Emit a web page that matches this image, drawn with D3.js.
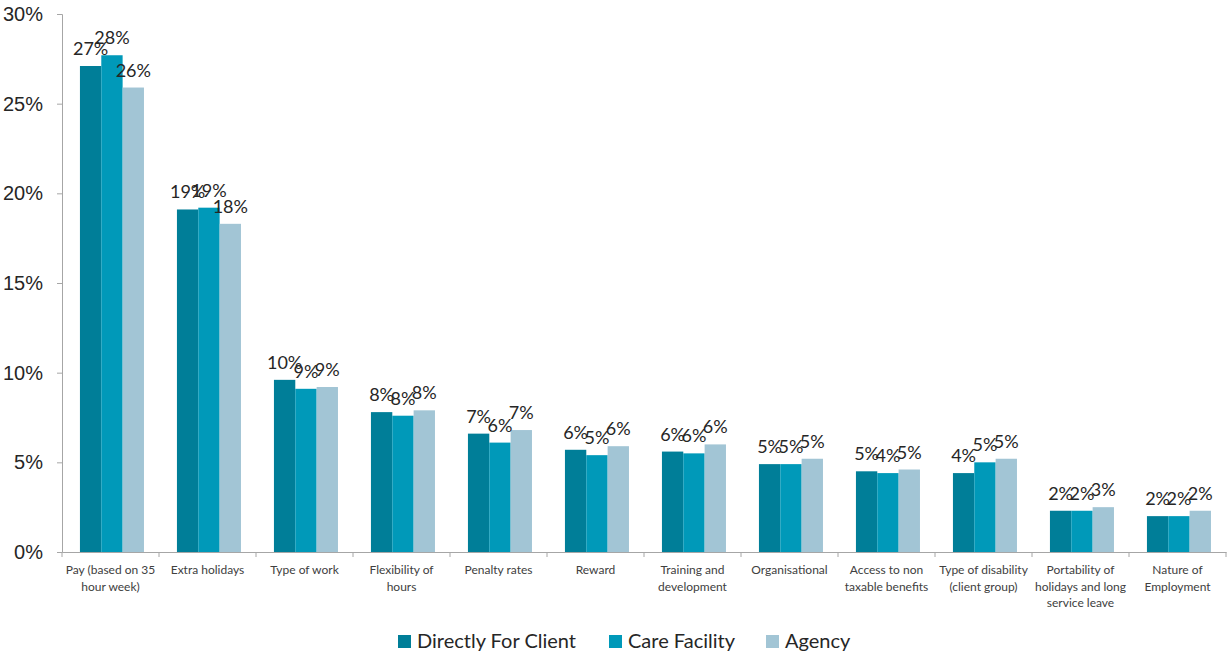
<!DOCTYPE html>
<html>
<head>
<meta charset="utf-8">
<script src="https://cdn.jsdelivr.net/npm/d3@7/dist/d3.min.js"></script>
<style>
  html, body { margin: 0; padding: 0; background: #fff; }
  svg { display: block; font-family: Lato, "Open Sans", sans-serif; }
</style>
</head>
<body>
<svg id="chart" width="1229" height="652"></svg>
<script>
// Reasons for preferring each employment setting (% of respondents)
const categories = [
  "Pay (based on 35 hour week)",
  "Extra holidays",
  "Type of work",
  "Flexibility of hours",
  "Penalty rates",
  "Reward",
  "Training and development",
  "Organisational",
  "Access to non taxable benefits",
  "Type of disability (client group)",
  "Portability of holidays and long service leave",
  "Nature of Employment"
];
// Wrapped lines for the category axis
const categoryLines = [
  ["Pay (based on 35", "hour week)"],
  ["Extra holidays"],
  ["Type of work"],
  ["Flexibility of", "hours"],
  ["Penalty rates"],
  ["Reward"],
  ["Training and", "development"],
  ["Organisational"],
  ["Access to non", "taxable benefits"],
  ["Type of disability", "(client group)"],
  ["Portability of", "holidays and long", "service leave"],
  ["Nature of", "Employment"]
];
const seriesNames = ["Directly For Client", "Care Facility", "Agency"];
const directlyForClient = [27.1, 19.1, 9.6, 7.8, 6.6, 5.7, 5.6, 4.9, 4.5, 4.4, 2.3, 2.0];
const careFacility      = [27.7, 19.2, 9.1, 7.6, 6.1, 5.4, 5.5, 4.9, 4.4, 5.0, 2.3, 2.0];
const agency            = [25.9, 18.3, 9.2, 7.9, 6.8, 5.9, 6.0, 5.2, 4.6, 5.2, 2.5, 2.3];
const yTicks = [0, 5, 10, 15, 20, 25, 30];
const colors = ["#007E98", "#0099B9", "#A2C5D5"];

const seriesValues = [directlyForClient, careFacility, agency];

const svg = d3.select("#chart");
const margin = { left: 62, right: 3, top: 14, bottom: 100 };
const W = 1229, H = 652;
const plotBottom = 552;

const x0 = d3.scaleBand().domain(categories).range([margin.left, W - margin.right]).padding(0);
const x1 = d3.scaleBand().domain(seriesNames)
  .range([x0.bandwidth() * 0.185, x0.bandwidth() * 0.845]).padding(0);
const y = d3.scaleLinear().domain([0, 30]).range([plotBottom, margin.top]);

const axisColor = "#A6A6A6";
const textColor = "#262626";

// Y axis
const yAxis = svg.append("g")
  .attr("transform", `translate(${margin.left},0)`)
  .call(d3.axisLeft(y).tickValues(yTicks).tickSize(5).tickPadding(14).tickFormat(d => d + "%"));
yAxis.select(".domain").attr("stroke", axisColor);
yAxis.selectAll(".tick line").attr("stroke", axisColor);
yAxis.selectAll(".tick text").attr("font-size", 20).attr("fill", textColor);

// Bars
const groups = svg.append("g").selectAll("g")
  .data(categories)
  .join("g")
  .attr("transform", d => `translate(${x0(d)},0)`);

groups.selectAll("rect")
  .data((c, i) => seriesNames.map((s, j) => ({ s, j, v: seriesValues[j][i] })))
  .join("rect")
  .attr("x", d => x1(d.s))
  .attr("width", x1.bandwidth())
  .attr("y", d => y(d.v))
  .attr("height", d => plotBottom - y(d.v))
  .attr("fill", d => colors[d.j]);

// Value labels
groups.selectAll("text.val")
  .data((c, i) => seriesNames.map((s, j) => ({ s, j, v: seriesValues[j][i] })))
  .join("text")
  .attr("class", "val")
  .attr("x", d => x1(d.s) + x1.bandwidth() / 2)
  .attr("y", d => y(d.v) - 11)
  .attr("text-anchor", "middle")
  .attr("font-size", 18)
  .attr("fill", textColor)
  .text(d => Math.round(d.v) + "%");

// X axis
const xAxis = svg.append("g")
  .attr("transform", `translate(0,${plotBottom})`)
  .call(d3.axisBottom(x0).tickSize(0).tickFormat(""));
xAxis.select(".domain").attr("stroke", axisColor);
xAxis.selectAll(".tick").remove();

// Category separators
const bounds = categories.map(c => x0(c)).concat([x0.range()[1]]);
svg.append("g").selectAll("line")
  .data(bounds)
  .join("line")
  .attr("x1", d => d).attr("x2", d => d)
  .attr("y1", plotBottom).attr("y2", plotBottom + 5)
  .attr("stroke", axisColor);

// Category labels
svg.append("g").selectAll("text")
  .data(categories)
  .join("text")
  .attr("x", d => x0(d) + x0.bandwidth() / 2)
  .attr("y", plotBottom + 22)
  .attr("text-anchor", "middle")
  .attr("font-size", 12)
  .attr("fill", "#404040")
  .each(function (d, i) {
    const t = d3.select(this);
    categoryLines[i].forEach((line, k) => {
      t.append("tspan").attr("x", x0(d) + x0.bandwidth() / 2).attr("dy", k === 0 ? 0 : 16.5).text(line);
    });
  });

// Legend
const legendX = [398, 609, 766];
const legend = svg.append("g").selectAll("g")
  .data(seriesNames)
  .join("g")
  .attr("transform", (d, i) => `translate(${legendX[i]},635)`);
legend.append("rect").attr("width", 13).attr("height", 13).attr("fill", (d, i) => colors[i]);
legend.append("text")
  .attr("x", 19).attr("y", 13)
  .attr("font-size", 20)
  .attr("fill", textColor)
  .text(d => d);
</script>
</body>
</html>
